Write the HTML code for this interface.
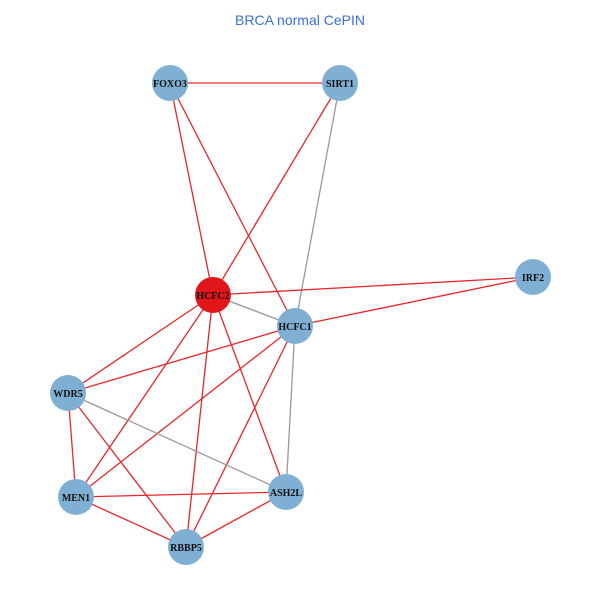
<!DOCTYPE html>
<html><head><style>body{margin:0;background:#fff}</style></head><body>
<svg width="600" height="600" xmlns="http://www.w3.org/2000/svg">
<rect width="600" height="600" fill="#fff"/>
<text x="300" y="25" text-anchor="middle" font-family="Liberation Sans, sans-serif" font-size="14" fill="#3a6fd8">BRCA normal CePIN</text>
<g stroke-width="1.3">
<line x1="170" y1="83" x2="340" y2="83" stroke="#e8262a"/>
<line x1="170" y1="83" x2="213" y2="295" stroke="#e8262a"/>
<line x1="170" y1="83" x2="295" y2="326" stroke="#e8262a"/>
<line x1="340" y1="83" x2="213" y2="295" stroke="#e8262a"/>
<line x1="340" y1="83" x2="295" y2="326" stroke="#999"/>
<line x1="213" y1="295" x2="533" y2="277" stroke="#e8262a"/>
<line x1="295" y1="326" x2="533" y2="277" stroke="#e8262a"/>
<line x1="213" y1="295" x2="295" y2="326" stroke="#999"/>
<line x1="213" y1="295" x2="68" y2="393" stroke="#e8262a"/>
<line x1="213" y1="295" x2="76" y2="497" stroke="#e8262a"/>
<line x1="213" y1="295" x2="186" y2="547" stroke="#e8262a"/>
<line x1="213" y1="295" x2="286" y2="492" stroke="#e8262a"/>
<line x1="295" y1="326" x2="68" y2="393" stroke="#e8262a"/>
<line x1="295" y1="326" x2="76" y2="497" stroke="#e8262a"/>
<line x1="295" y1="326" x2="186" y2="547" stroke="#e8262a"/>
<line x1="295" y1="326" x2="286" y2="492" stroke="#999"/>
<line x1="68" y1="393" x2="76" y2="497" stroke="#e8262a"/>
<line x1="68" y1="393" x2="186" y2="547" stroke="#e8262a"/>
<line x1="68" y1="393" x2="286" y2="492" stroke="#999"/>
<line x1="76" y1="497" x2="286" y2="492" stroke="#e8262a"/>
<line x1="76" y1="497" x2="186" y2="547" stroke="#e8262a"/>
<line x1="186" y1="547" x2="286" y2="492" stroke="#e8262a"/>
</g>
<g fill="#7fb0d4">
<circle cx="170" cy="83" r="18"/>
<circle cx="340" cy="83" r="18"/>
<circle cx="213" cy="295" r="18" fill="#e0161b"/>
<circle cx="295" cy="326" r="18"/>
<circle cx="533" cy="277" r="18"/>
<circle cx="68" cy="393" r="18"/>
<circle cx="76" cy="497" r="18"/>
<circle cx="286" cy="492" r="18"/>
<circle cx="186" cy="547" r="18"/>
</g>
<g font-family="Liberation Serif, serif" font-size="10" font-weight="bold" text-anchor="middle" fill="#111">
<text x="170" y="87">FOXO3</text>
<text x="340" y="87">SIRT1</text>
<text x="213" y="299">HCFC2</text>
<text x="295" y="330">HCFC1</text>
<text x="533" y="281">IRF2</text>
<text x="68" y="397">WDR5</text>
<text x="76" y="501">MEN1</text>
<text x="286" y="496">ASH2L</text>
<text x="186" y="551">RBBP5</text>
</g>
</svg>
</body></html>
